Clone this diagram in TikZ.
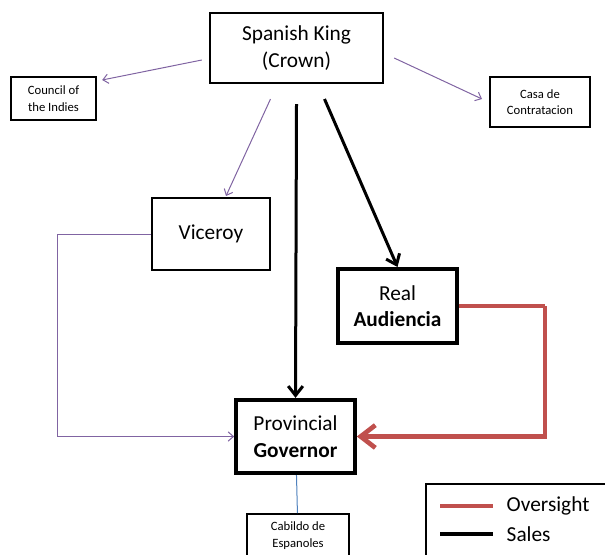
\documentclass[tikz,border=0pt]{standalone}
\usepackage{fontspec}
\setmainfont{Carlito}
\usetikzlibrary{arrows.meta}
\definecolor{officepurple}{HTML}{8064A2}
\definecolor{officered}{HTML}{C0504D}
\definecolor{officeblue}{HTML}{4F81BD}
\tikzset{
  bigbox/.style={draw,line width=1.5pt,align=center,font=\fontsize{16}{20}\selectfont},
  boldbox/.style={bigbox,line width=3pt},
  smallbox/.style={draw,line width=1.5pt,align=center,font=\fontsize{9.5}{12.5}\selectfont},
  office/.style={officepurple,line width=0.75pt,-{Straight Barb[length=4pt,width=7pt]}},
  sales/.style={line width=2.25pt,-{Straight Barb[length=7pt,width=11pt]}},
  oversight/.style={officered,line width=3.5pt,-{Straight Barb[length=11pt,width=17pt]}}
}
\begin{document}
\begin{tikzpicture}[x=0.75pt,y=-0.75pt]
\useasboundingbox (0,0) rectangle (605,554);

% boxes
\node[bigbox,minimum width=130pt,minimum height=52.5pt] (king) at (296.5,48) {Spanish King\\(Crown)};
\node[smallbox,minimum width=64pt,minimum height=32pt] (council) at (53.5,98.5) {Council of\\the Indies};
\node[smallbox,minimum width=75pt,minimum height=37.5pt] (casa) at (540,102) {Casa de\\Contratacion};
\node[bigbox,minimum width=88.5pt,minimum height=54pt] (viceroy) at (211,234) {Viceroy};
\node[boldbox,minimum width=89pt,minimum height=55.5pt] (audiencia) at (397.5,306) {Real\\\textbf{Audiencia}};
\node[boldbox,minimum width=89pt,minimum height=55pt] (governor) at (295.5,436.5) {Provincial\\\textbf{Governor}};
\node[smallbox,minimum width=76.5pt,minimum height=32.25pt,anchor=north] (cabildo) at (298,513) {Cabildo de\\Espanoles};

% connectors
\draw[office] ([shift={(-7,12)}]king.west) -- ([shift={(5,-18.5)}]council.east);
\draw[office] ([shift={(10,10)}]king.east) -- ([shift={(-7,-3)}]casa.west);
\draw[office] ([shift={(-26,15)}]king.south) -- ([shift={(15,-1)}]viceroy.north);
\draw[sales] ([shift={(0,20)}]king.south) -- (governor.north);
\draw[sales] ([shift={(28,15)}]king.south) -- (audiencia.north);
\draw[oversight,-] (audiencia.east) -- ++(86,0) coordinate (turn);
\draw[oversight] (turn) |- (governor.east);
\draw[office] (viceroy.west) -- ++(-94,0) |- (governor.west);
\draw[officeblue,line width=0.75pt] (governor) -- (cabildo);

% legend
\draw[line width=1.5pt] (426,484) rectangle (615,570);
\node[anchor=west,font=\fontsize{16}{20}\selectfont] (ovs) at (502,506) {Oversight};
\node[anchor=west,font=\fontsize{16}{20}\selectfont] (sal) at (502,534) {Sales};
\draw[officered,line width=3.5pt] ([shift={(-62,0)}]ovs.west) -- ++(53,0);
\draw[line width=2.5pt] ([shift={(-62,0)}]sal.west) -- ++(53,0);
\end{tikzpicture}
\end{document}
